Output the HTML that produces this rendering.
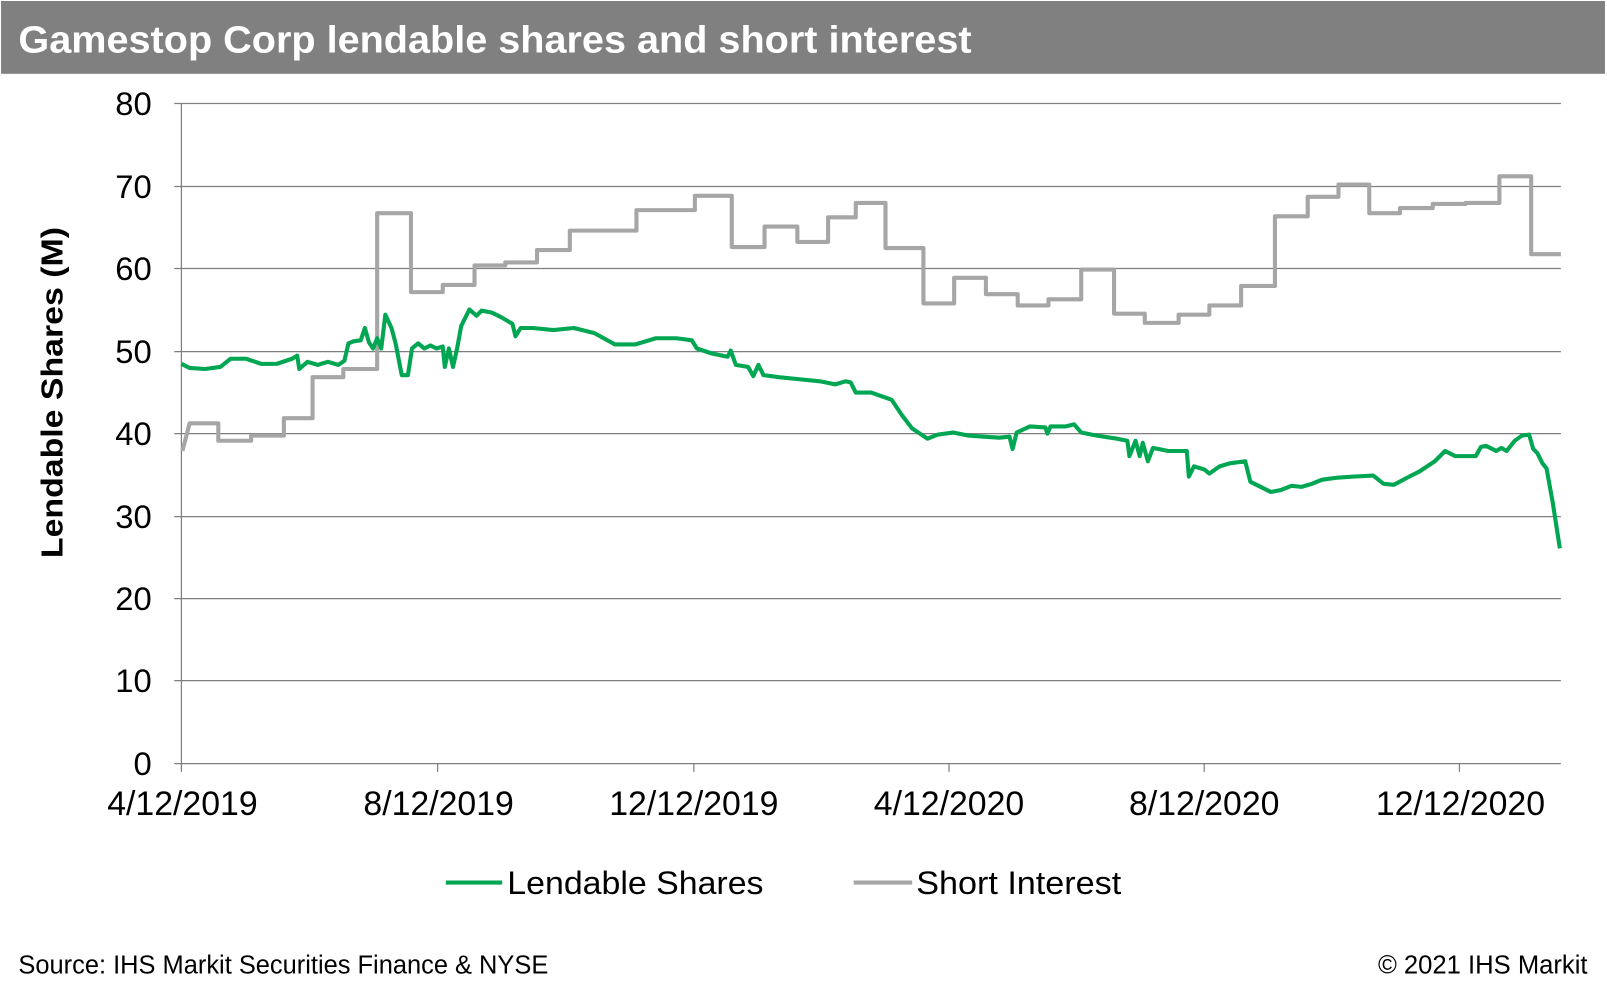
<!DOCTYPE html>
<html><head><meta charset="utf-8"><style>html,body{margin:0;padding:0;background:#fff}svg{display:block}</style></head><body>
<svg width="1607" height="984" viewBox="0 0 1568 960" preserveAspectRatio="none" xmlns="http://www.w3.org/2000/svg" font-family="Liberation Sans, Arial, sans-serif">
<rect x="1" y="1" width="1565" height="71" fill="#808080"/>
<text x="18" y="51" font-size="37" font-weight="bold" fill="#fff" textLength="930" lengthAdjust="spacingAndGlyphs">Gamestop Corp lendable shares and short interest</text>
<g stroke="#7f7f7f" stroke-width="1.2">
<line x1="170" y1="101" x2="1523" y2="101"/><line x1="170" y1="182" x2="1523" y2="182"/><line x1="170" y1="262" x2="1523" y2="262"/><line x1="170" y1="343" x2="1523" y2="343"/><line x1="170" y1="423" x2="1523" y2="423"/><line x1="170" y1="504" x2="1523" y2="504"/><line x1="170" y1="584" x2="1523" y2="584"/><line x1="170" y1="664" x2="1523" y2="664"/><line x1="170" y1="745" x2="1523" y2="745"/>
<line x1="177" y1="101" x2="177" y2="745"/>
<line x1="177" y1="745" x2="177" y2="753"/><line x1="427" y1="745" x2="427" y2="753"/><line x1="677" y1="745" x2="677" y2="753"/><line x1="926" y1="745" x2="926" y2="753"/><line x1="1175" y1="745" x2="1175" y2="753"/><line x1="1424" y1="745" x2="1424" y2="753"/>
</g>
<g font-size="32" fill="#000" text-anchor="end">
<text x="148" y="112">80</text><text x="148" y="193">70</text><text x="148" y="273">60</text><text x="148" y="354">50</text><text x="148" y="434">40</text><text x="148" y="515">30</text><text x="148" y="595">20</text><text x="148" y="675">10</text><text x="148" y="756">0</text>
</g>
<g font-size="33" fill="#000" text-anchor="middle">
<text x="178" y="795">4/12/2019</text><text x="428" y="795">8/12/2019</text><text x="677" y="795">12/12/2019</text><text x="926" y="795">4/12/2020</text><text x="1175" y="795">8/12/2020</text><text x="1425" y="795">12/12/2020</text>
</g>
<text transform="translate(61,383) rotate(-90)" font-size="30" font-weight="bold" text-anchor="middle" textLength="323" lengthAdjust="spacingAndGlyphs">Lendable Shares (M)</text>
<polyline fill="none" stroke="#a6a6a6" stroke-width="4" stroke-linejoin="round" points="178,440 185,413 213,413 213,430 245,430 245,425 277,425 277,408 305,408 305,368 335,368 335,360 368,360 368,208 401,208 401,285 432,285 432,278 463,278 463,259 493,259 493,256 524,256 524,244 556,244 556,225 621,225 621,205 678,205 678,191 714,191 714,241 746,241 746,221 778,221 778,236 808,236 808,212 835,212 835,198 864,198 864,242 901,242 901,296 931,296 931,271 962,271 962,287 993,287 993,298 1023,298 1023,292 1055,292 1055,263 1087,263 1087,306 1117,306 1117,315 1150,315 1150,307 1180,307 1180,298 1211,298 1211,279 1244,279 1244,211 1276,211 1276,192 1306,192 1306,180 1336,180 1336,208 1366,208 1366,203 1398,203 1398,199 1430,199 1430,198 1463,198 1463,172 1494,172 1494,248 1523,248"/>
<polyline fill="none" stroke="#00a651" stroke-width="4" stroke-linejoin="round" points="177,355 185,359 200,360 215,358 225,350 240,350 255,355 270,355 285,350 290,347 292,360 300,353 310,356 320,353 330,356 336,352 340,335 345,333 352,332 356,320 360,334 364,340 368,330 372,340 376,307 382,320 386,335 392,366 398,366 402,340 408,335 414,340 420,337 426,340 432,338 434,358 438,340 442,358 446,340 450,318 458,302 465,308 470,303 480,305 490,310 500,316 503,328 508,320 520,320 540,322 560,320 580,325 600,336 620,336 640,330 660,330 675,332 680,340 695,345 710,348 713,342 718,356 730,358 735,367 740,356 745,366 760,368 780,370 800,372 815,375 825,372 830,373 835,383 850,383 870,390 880,405 890,418 905,428 915,424 930,422 945,425 960,426 975,427 985,426 988,438 992,422 1005,416 1020,417 1022,423 1025,416 1040,416 1048,414 1055,422 1070,425 1090,428 1100,430 1102,445 1108,430 1112,445 1115,432 1120,450 1125,437 1140,440 1158,440 1160,465 1165,455 1175,458 1180,462 1190,455 1200,452 1215,450 1220,470 1230,475 1240,480 1250,478 1260,474 1270,475 1280,472 1290,468 1305,466 1320,465 1340,464 1350,472 1360,473 1375,465 1385,460 1400,450 1410,440 1420,445 1430,445 1440,445 1445,436 1450,435 1460,440 1465,437 1470,440 1478,430 1485,425 1492,424 1496,438 1500,442 1505,452 1509,457 1515,490 1522,535"/>
<line x1="435" y1="861" x2="490" y2="861" stroke="#00a651" stroke-width="4"/>
<text x="495" y="872" font-size="32" textLength="250" lengthAdjust="spacingAndGlyphs">Lendable Shares</text>
<line x1="833" y1="861" x2="890" y2="861" stroke="#a6a6a6" stroke-width="4"/>
<text x="894" y="872" font-size="32" textLength="200" lengthAdjust="spacingAndGlyphs">Short Interest</text>
<text x="18" y="950" font-size="25" textLength="517" lengthAdjust="spacingAndGlyphs">Source: IHS Markit Securities Finance &amp; NYSE</text>
<text x="1549" y="950" font-size="25" text-anchor="end">© 2021 IHS Markit</text>
</svg>
</body></html>
